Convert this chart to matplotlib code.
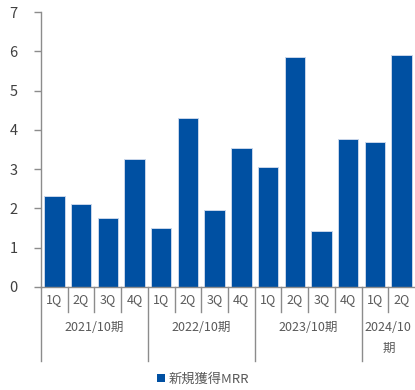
import matplotlib.pyplot as plt
import matplotlib.transforms as mtransforms
from matplotlib.patches import Patch

plt.rcParams['font.family'] = ['Noto Sans CJK JP', 'DejaVu Sans']

QUARTERS = ['1Q', '2Q', '3Q', '4Q', '1Q', '2Q', '3Q', '4Q', '1Q', '2Q', '3Q', '4Q', '1Q', '2Q']
MRR = [2.31, 2.11, 1.75, 3.25, 1.50, 4.31, 1.97, 3.55, 3.06, 5.85, 1.43, 3.77, 3.70, 5.91]
YEARS = ['2021/10期', '2022/10期', '2023/10期', '2024/10\n期']
YEAR_SIZES = [4, 4, 4, 2]
SERIES_NAME = '新規獲得MRR'

BAR_COLOR = '#0050A2'
AXIS_COLOR = '#8c8c8c'
TEXT_COLOR = '#595959'


def main():
    fig = plt.figure(figsize=(4.15, 3.9), dpi=100)
    ax = fig.add_axes([41 / 415, 1 - 287 / 390, 374 / 415, 275 / 390])

    x = list(range(len(MRR)))
    ax.bar(x, MRR, width=0.76, color=BAR_COLOR, edgecolor='#c9d6ea', linewidth=0.7)

    ax.set_xlim(-0.5, len(MRR) - 0.5)
    ax.set_ylim(0, 7)
    ax.set_yticks(range(0, 8))
    ax.set_xticks([])

    for side in ['top', 'right']:
        ax.spines[side].set_visible(False)
    for side in ['left', 'bottom']:
        ax.spines[side].set_color(AXIS_COLOR)
        ax.spines[side].set_linewidth(1.0)
    ax.tick_params(axis='y', length=5, width=1.0, color=AXIS_COLOR,
                   labelsize=10.5, labelcolor='#404040', pad=12)

    # two-level category axis: quarters, then fiscal years
    trans = mtransforms.blended_transform_factory(ax.transData, ax.transAxes)
    px = 1 / 275
    for i, q in enumerate(QUARTERS):
        ax.text(i, -13 * px, q, transform=trans, ha='center', va='center',
                fontsize=9, color=TEXT_COLOR)

    start = 0
    for name, size in zip(YEARS, YEAR_SIZES):
        ax.plot([start - 0.5, start - 0.5], [0, -74 * px], transform=trans,
                color=AXIS_COLOR, lw=1.0, clip_on=False)
        for k in range(1, size):
            ax.plot([start + k - 0.5] * 2, [0, -25 * px], transform=trans,
                    color=AXIS_COLOR, lw=1.0, clip_on=False)
        ax.text(start + (size - 1) / 2, -34 * px, name, transform=trans,
                ha='center', va='top', fontsize=9, color=TEXT_COLOR,
                linespacing=1.75)
        start += size

    handle = Patch(facecolor=BAR_COLOR, edgecolor='none')
    fig.legend([handle], [SERIES_NAME], loc='center',
               bbox_to_anchor=(0.49, 1 - 379 / 390), frameon=False,
               fontsize=9.5, labelcolor=TEXT_COLOR, handlelength=0.6,
               handleheight=0.6, handletextpad=0.3)

    fig.savefig('out.png', dpi=100)


if __name__ == '__main__':
    main()
